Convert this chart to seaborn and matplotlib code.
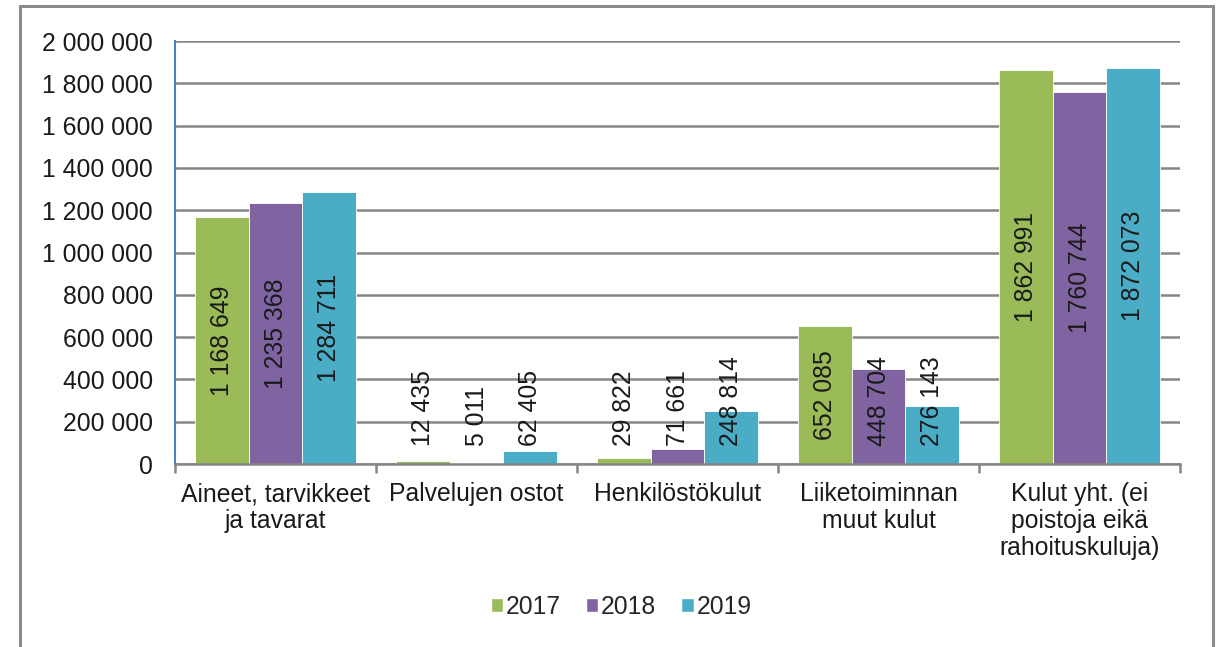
import pandas as pd
import matplotlib.pyplot as plt
import matplotlib.ticker as mticker
from matplotlib.lines import Line2D
import seaborn as sns

categories = [
    "Aineet, tarvikkeet\nja tavarat",
    "Palvelujen ostot",
    "Henkilöstökulut",
    "Liiketoiminnan\nmuut kulut",
    "Kulut yht. (ei\npoistoja eikä\nrahoituskuluja)",
]
years = ["2017", "2018", "2019"]
values_2017 = [1168649, 12435, 29822, 652085, 1862991]
values_2018 = [1235368, 5011, 71661, 448704, 1760744]
values_2019 = [1284711, 62405, 248814, 276143, 1872073]
colors = ["#9BBB59", "#8064A2", "#4BACC6"]


def fmt(v):
    return f"{int(v):,}".replace(",", " ")


df = pd.DataFrame({
    "Kategoria": categories * 3,
    "Vuosi": [y for y in years for _ in categories],
    "Arvo": values_2017 + values_2018 + values_2019,
})

sns.set_style("white")
plt.rcParams["font.family"] = ["Liberation Sans", "DejaVu Sans"]
fs = 17.8

fig = plt.figure(figsize=(12.25, 6.47), dpi=100)
ax = fig.add_axes([0.1429, 0.2828, 0.8204, 0.6538])

sns.barplot(data=df, x="Kategoria", y="Arvo", hue="Vuosi", palette=colors,
            order=categories, hue_order=years, width=0.8, saturation=1,
            edgecolor="white", linewidth=0.6, ax=ax, legend=False)

ax.set_ylim(0, 2000000)
ax.set_yticks(range(0, 2000001, 200000))
ax.yaxis.set_major_formatter(mticker.FuncFormatter(lambda v, p: fmt(v)))
ax.grid(axis="y", color="#868686", linewidth=1.8)
ax.set_axisbelow(True)
ax.set_xlabel("")
ax.set_ylabel("")

for side in ["top", "right"]:
    ax.spines[side].set_visible(False)
ax.spines["left"].set_color("#4F81BD")
ax.spines["left"].set_linewidth(1.5)
ax.spines["bottom"].set_color("#868686")
ax.spines["bottom"].set_linewidth(1.8)

ax.tick_params(axis="y", length=0, pad=16, labelsize=fs, colors="#1a1a1a")
ax.tick_params(axis="x", length=0, pad=13, labelsize=fs, colors="#1a1a1a")
for lab in ax.get_xticklabels():
    lab.set_linespacing(1.15)

# separator ticks between categories
for b in range(len(categories) + 1):
    ax.add_line(Line2D([b - 0.5, b - 0.5], [0, -0.02], transform=ax.get_xaxis_transform(),
                       color="#868686", linewidth=1.8, clip_on=False))

# value labels, rotated
for container in ax.containers:
    for bar in container:
        v = bar.get_height()
        xc = bar.get_x() + bar.get_width() / 2
        if v > 500000:
            ax.text(xc, v / 2, fmt(v), rotation=90, ha="center", va="center",
                    fontsize=fs, color="#1a1a1a")
        else:
            ax.text(xc, 85000, fmt(v), rotation=90, ha="center", va="bottom",
                    fontsize=fs, color="#1a1a1a")

handles = [plt.Rectangle((0, 0), 1, 1, facecolor=c, edgecolor="white") for c in colors]
fig.legend(handles, years, loc="center", bbox_to_anchor=(0.507, 0.062), ncol=3,
           frameon=False, fontsize=fs, handlelength=0.5, handleheight=0.5,
           handletextpad=0.12, columnspacing=1.0)

# outer frame (open at bottom)
fc = "#8A8A8A"
fig.add_artist(Line2D([0.0165, 0.0165], [0, 0.991], transform=fig.transFigure, color=fc, linewidth=2.2))
fig.add_artist(Line2D([0.0165, 0.9905], [0.991, 0.991], transform=fig.transFigure, color=fc, linewidth=2.2))
fig.add_artist(Line2D([0.9905, 0.9905], [0, 0.991], transform=fig.transFigure, color=fc, linewidth=2.2))

plt.savefig("out.png", dpi=100)
plt.close()
